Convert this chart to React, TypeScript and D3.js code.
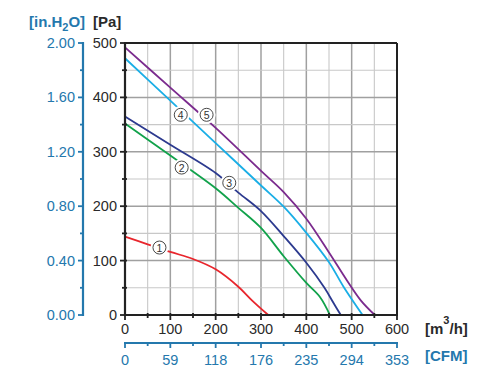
import * as d3 from 'd3';

// curve data: flow [m3/h] vs static pressure [Pa]
const flow1 = [0, 50, 100, 150, 200, 250, 280, 316];
const pa1 = [144, 130, 116, 103, 84, 52, 27, 0];
const flow2 = [0, 100, 200, 250, 300, 350, 400, 430, 452];
const pa2 = [352, 293, 233, 197, 160, 108, 59, 33, 0];
const flow3 = [0, 100, 200, 250, 300, 350, 400, 440, 460, 476];
const pa3 = [365, 313, 261, 225, 191, 145, 96, 50, 22, 0];
const flow4 = [0, 100, 200, 300, 350, 400, 450, 482, 524];
const pa4 = [472, 394, 316, 238, 199, 151, 97, 52, 0];
const flow5 = [0, 100, 200, 300, 350, 400, 450, 490, 520, 551];
const pa5 = [492, 418, 344, 265, 226, 177, 115, 63, 27, 0];

const curveColors = ['#e8262d', '#11a24b', '#2c3a8f', '#1aaee6', '#7b2b8e'];
const labelFlow = [76, 125, 230, 123, 180];
const labelPa = [124, 271, 243, 368, 368];
const labelText = ['1', '2', '3', '4', '5'];

const paTicks = [0, 100, 200, 300, 400, 500];
const flowTicks = [0, 100, 200, 300, 400, 500, 600];
const inchTicks = ['0.00', '0.40', '0.80', '1.20', '1.60', '2.00'];
const cfmTicks = ['0', '59', '118', '176', '235', '294', '353'];

const series = [
  [flow1, pa1],
  [flow2, pa2],
  [flow3, pa3],
  [flow4, pa4],
  [flow5, pa5],
];

const BLUE = '#2478ad';
const FONT = '"Liberation Sans", Arial, sans-serif';

export default function App() {
  const width = 492;
  const height = 384;
  const margin = { top: 43, right: 95, bottom: 69, left: 125 };

  const x = d3.scaleLinear().domain([0, 600]).range([margin.left, width - margin.right]);
  const y = d3.scaleLinear().domain([0, 500]).range([height - margin.bottom, margin.top]);
  const yIn = d3.scaleLinear().domain([0, 2]).range(y.range());

  const line = d3
    .line<[number, number]>()
    .x((d) => x(d[0]))
    .y((d) => y(d[1]))
    .curve(d3.curveCatmullRom.alpha(0.5));

  const grid50x = d3.range(50, 600, 50);
  const grid50y = d3.range(50, 500, 50);
  const inAxisX = 83;
  const cfmAxisY = 343;

  return (
    <svg
      width={width}
      height={height}
      style={{ position: 'absolute', left: 0, top: 0, background: '#fff' }}
      fontFamily={FONT}
    >
      {/* grid */}
      {grid50x.map((v) => (
        <line
          key={'gx' + v}
          x1={x(v)}
          x2={x(v)}
          y1={y(0)}
          y2={y(500)}
          stroke={v % 100 === 0 ? '#a0a0a0' : '#c8c8c8'}
          strokeWidth={v % 100 === 0 ? 1.5 : 1.1}
        />
      ))}
      {grid50y.map((v) => (
        <line
          key={'gy' + v}
          x1={x(0)}
          x2={x(600)}
          y1={y(v)}
          y2={y(v)}
          stroke={v % 100 === 0 ? '#a0a0a0' : '#c8c8c8'}
          strokeWidth={v % 100 === 0 ? 1.5 : 1.1}
        />
      ))}

      {/* curves */}
      {series.map(([f, p], i) => (
        <path
          key={'c' + i}
          d={line(f.map((v, j) => [v, p[j]]) as [number, number][]) || ''}
          fill="none"
          stroke={curveColors[i]}
          strokeWidth={1.8}
        />
      ))}

      {/* frame */}
      <line x1={x(0)} x2={x(600)} y1={y(500)} y2={y(500)} stroke="#222" strokeWidth={2} />
      <line x1={x(600)} x2={x(600)} y1={y(500)} y2={y(0)} stroke="#222" strokeWidth={2} />
      <line x1={x(0)} x2={x(0)} y1={y(500) - 1} y2={y(0) + 1} stroke="#222" strokeWidth={2.2} />
      <line x1={x(0) - 1} x2={x(600) + 1} y1={y(0)} y2={y(0)} stroke="#222" strokeWidth={2.2} />

      {/* Pa axis ticks */}
      {d3.range(0, 501, 50).map((v) => (
        <line
          key={'pt' + v}
          x1={x(0) - (v % 100 === 0 ? 5 : 3)}
          x2={x(0) + 2}
          y1={y(v)}
          y2={y(v)}
          stroke="#222"
          strokeWidth={1.8}
        />
      ))}
      {paTicks.map((v) => (
        <text key={'pl' + v} x={x(0) - 8} y={y(v) + 5} textAnchor="end" fontSize={14.5} fill="#2a2a2a">
          {v}
        </text>
      ))}

      {/* flow axis ticks */}
      {d3.range(0, 601, 50).map((v) => (
        <line
          key={'ft' + v}
          x1={x(v)}
          x2={x(v)}
          y1={y(0) - 2}
          y2={y(0) + (v % 100 === 0 ? 5 : 3)}
          stroke="#222"
          strokeWidth={1.8}
        />
      ))}
      {flowTicks.map((v) => (
        <text key={'fl' + v} x={x(v)} y={334} textAnchor="middle" fontSize={14.5} fill="#2a2a2a">
          {v}
        </text>
      ))}

      {/* in.H2O axis */}
      <line x1={inAxisX} x2={inAxisX} y1={y(500) - 1} y2={y(0) + 1} stroke={BLUE} strokeWidth={2.2} />
      {d3.range(0, 2.01, 0.2).map((v, i) => (
        <line
          key={'it' + i}
          x1={inAxisX - (i % 2 === 0 ? 5 : 3)}
          x2={inAxisX}
          y1={yIn(v)}
          y2={yIn(v)}
          stroke={BLUE}
          strokeWidth={1.8}
        />
      ))}
      {inchTicks.map((t) => (
        <text key={'il' + t} x={inAxisX - 8} y={yIn(+t) + 5} textAnchor="end" fontSize={14.5} fill={BLUE}>
          {t}
        </text>
      ))}

      {/* CFM axis */}
      <line x1={x(0) - 1} x2={x(600) + 1} y1={cfmAxisY} y2={cfmAxisY} stroke={BLUE} strokeWidth={2.2} />
      {d3.range(0, 601, 50).map((v) => (
        <line
          key={'ct' + v}
          x1={x(v)}
          x2={x(v)}
          y1={cfmAxisY}
          y2={cfmAxisY + (v % 100 === 0 ? 5 : 3)}
          stroke={BLUE}
          strokeWidth={1.8}
        />
      ))}
      {cfmTicks.map((t, i) => (
        <text key={'cl' + t} x={x(flowTicks[i])} y={365} textAnchor="middle" fontSize={14.5} fill={BLUE}>
          {t}
        </text>
      ))}

      {/* curve labels */}
      {labelText.map((t, i) => (
        <g key={'lb' + t} transform={`translate(${x(labelFlow[i])},${y(labelPa[i])})`}>
          <circle r={9} fill="#fff" />
          <circle r={6.5} fill="#fff" stroke="#333" strokeWidth={0.9} />
          <text y={4} textAnchor="middle" fontSize={10.5} fill="#333">
            {t}
          </text>
        </g>
      ))}

      {/* axis titles */}
      <text x={93} y={27} fontSize={15} fontWeight="bold" fill="#2a2a2a">
        [Pa]
      </text>
      <text x={29} y={27} fontSize={15} fontWeight="bold" fill={BLUE}>
        [in.H
        <tspan fontSize={11} dy={4}>
          2
        </tspan>
        <tspan dy={-4}>O]</tspan>
      </text>
      <text x={425} y={334} fontSize={15} fontWeight="bold" fill="#2a2a2a">
        [m
        <tspan fontSize={11} dy={-10}>
          3
        </tspan>
        <tspan dy={10}>/h]</tspan>
      </text>
      <text x={425} y={361} fontSize={15} fontWeight="bold" fill={BLUE}>
        [CFM]
      </text>
    </svg>
  );
}
